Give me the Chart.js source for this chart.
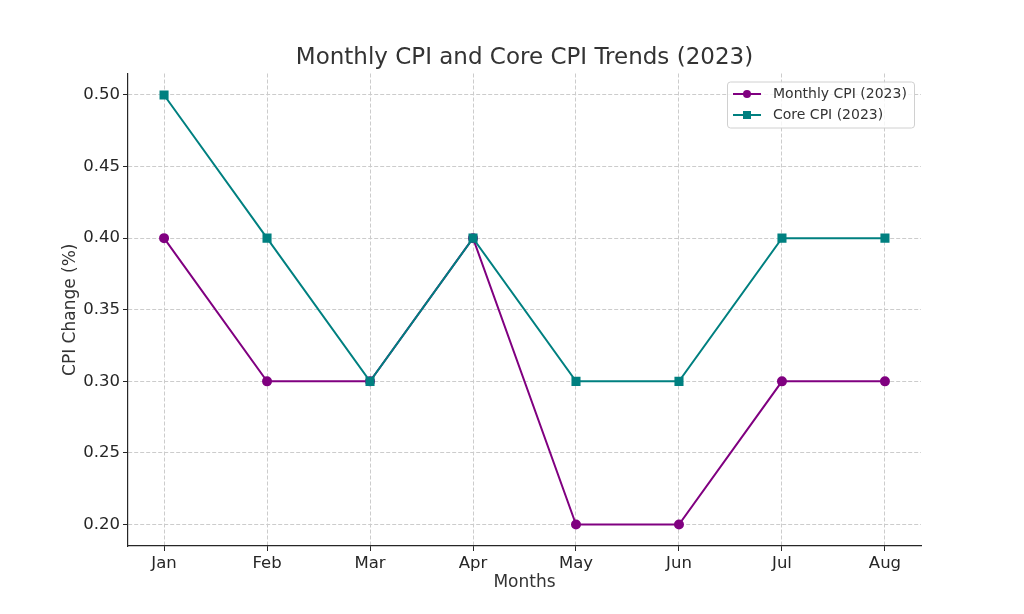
<!DOCTYPE html>
<html>
<head>
<meta charset="utf-8">
<script src="https://cdn.jsdelivr.net/npm/chart.js"></script>
<style>
  html, body { margin: 0; padding: 0; background: #fff; }
  #wrap { width: 1024px; height: 614px; position: relative; }
</style>
</head>
<body>
<div id="wrap"><canvas id="cpi-chart"></canvas></div>
<script>
// data
const months = ["Jan", "Feb", "Mar", "Apr", "May", "Jun", "Jul", "Aug"];
const monthlyCpi = [0.4, 0.3, 0.3, 0.4, 0.2, 0.2, 0.3, 0.3];
const coreCpi = [0.5, 0.4, 0.3, 0.4, 0.3, 0.3, 0.4, 0.4];
const yTicks = [0.2, 0.25, 0.3, 0.35, 0.4, 0.45, 0.5];

const textColor = "#333333";
const gridColor = "#cccccc";
const font = "'DejaVu Sans', sans-serif";

const toPoints = (arr) => arr.map((v, i) => ({ x: i, y: v }));

// title centred over the plot area, like matplotlib
const titlePlugin = {
  id: "plotTitle",
  afterDraw(chart) {
    const { ctx, chartArea } = chart;
    ctx.save();
    ctx.fillStyle = textColor;
    ctx.font = "23px " + font;
    ctx.textAlign = "center";
    ctx.textBaseline = "middle";
    ctx.fillText("Monthly CPI and Core CPI Trends (2023)", (chartArea.left + chartArea.right) / 2, 58.5);
    ctx.restore();
  },
};

// legend box inside the plot, upper right
const legendPlugin = {
  id: "innerLegend",
  afterDraw(chart) {
    const { ctx, chartArea } = chart;
    const items = chart.data.datasets;
    const w = 187, h = 46;
    const x = chartArea.right - 7 - w;
    const y = chartArea.top + 8;
    ctx.save();
    ctx.fillStyle = "rgba(255,255,255,0.8)";
    ctx.strokeStyle = "#d0d0d0";
    ctx.lineWidth = 1;
    ctx.beginPath();
    ctx.roundRect(x + 0.5, y + 0.5, w, h, 3);
    ctx.fill();
    ctx.stroke();
    ctx.font = "14px " + font;
    ctx.textBaseline = "middle";
    items.forEach((ds, i) => {
      const cy = y + 12.5 + i * 21;
      ctx.strokeStyle = ds.borderColor;
      ctx.lineWidth = 2;
      ctx.beginPath();
      ctx.moveTo(x + 6, cy);
      ctx.lineTo(x + 34, cy);
      ctx.stroke();
      ctx.fillStyle = ds.borderColor;
      if (ds.pointStyle === "rect") {
        ctx.fillRect(x + 20 - 4, cy - 4, 8, 8);
      } else {
        ctx.beginPath();
        ctx.arc(x + 20, cy, 4, 0, Math.PI * 2);
        ctx.fill();
      }
      ctx.fillStyle = textColor;
      ctx.fillText(ds.label, x + 46, cy);
    });
    ctx.restore();
  },
};

const ctx = document.getElementById("cpi-chart").getContext("2d");
new Chart(ctx, {
  type: "line",
  data: {
    datasets: [
      {
        label: "Monthly CPI (2023)",
        data: toPoints(monthlyCpi),
        borderColor: "#800080",
        backgroundColor: "#800080",
        borderWidth: 2,
        pointStyle: "circle",
        pointRadius: 4,
        pointHoverRadius: 4,
        order: 1,
      },
      {
        label: "Core CPI (2023)",
        data: toPoints(coreCpi),
        borderColor: "#008080",
        backgroundColor: "#008080",
        borderWidth: 2,
        pointStyle: "rect",
        pointRadius: 5,
        pointHoverRadius: 5,
        order: 0,
      },
    ],
  },
  options: {
    responsive: true,
    maintainAspectRatio: false,
    animation: false,
    layout: { padding: { left: 0, right: 103, top: 73.5, bottom: 0 } },
    plugins: {
      legend: { display: false },
      title: { display: false },
      tooltip: { enabled: false },
    },
    scales: {
      x: {
        type: "linear",
        min: -0.35,
        max: 7.35,
        afterBuildTicks: (scale) => {
          scale.ticks = months.map((m, i) => ({ value: i }));
        },
        afterFit: (scale) => { scale.height = 68; },
        ticks: {
          color: "#262626",
          font: { family: font, size: 16.5 },
          padding: 3,
          maxRotation: 0,
          callback: (v) => months[v],
        },
        grid: {
          color: gridColor,
          tickColor: "#262626",
          tickLength: 5,
          tickBorderDash: [],
        },
        border: { display: true, color: "#262626", width: 1.2, dash: [4, 2] },
        title: {
          display: true,
          text: "Months",
          color: textColor,
          font: { family: font, size: 17 },
          padding: { top: 0, bottom: 21 },
        },
      },
      y: {
        min: 0.185,
        max: 0.515,
        afterBuildTicks: (scale) => {
          scale.ticks = yTicks.map((v) => ({ value: v }));
        },
        afterFit: (scale) => { scale.width = 128; },
        ticks: {
          color: "#262626",
          font: { family: font, size: 16.5 },
          padding: 3,
          callback: (v) => Number(v).toFixed(2),
        },
        grid: {
          color: gridColor,
          tickColor: "#262626",
          tickLength: 5,
          tickBorderDash: [],
        },
        border: { display: true, color: "#262626", width: 1.2, dash: [4, 2] },
        title: {
          display: true,
          text: "CPI Change (%)",
          color: textColor,
          font: { family: font, size: 17 },
          padding: { top: 60, bottom: 0 },
        },
      },
    },
  },
  plugins: [titlePlugin, legendPlugin],
});
</script>
</body>
</html>
